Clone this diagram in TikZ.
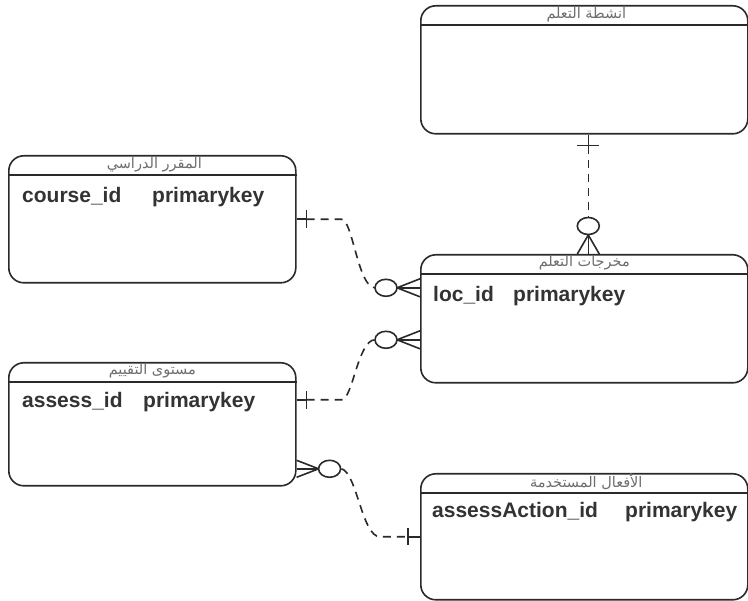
\documentclass[tikz,border=0pt]{standalone}
\usepackage{fontspec}
\setmainfont{Liberation Sans}
\newfontfamily\arabicfont[Script=Arabic]{DejaVu Sans}
\TeXXeTstate=1
\usetikzlibrary{shapes.geometric,calc}
\definecolor{edgec}{HTML}{2A2A2A}
\definecolor{titlec}{HTML}{6E6E6E}
\definecolor{fieldc}{HTML}{333333}
\tikzset{
 entity/.style={draw=edgec, line width=1.6pt, rounded corners=15pt, anchor=north west, inner sep=0pt},
 hdr/.style={draw=edgec, line width=1.6pt},
 ttl/.style={font=\arabicfont\fontsize{14.5}{16}\selectfont, text=titlec, inner sep=0pt},
 fld/.style={font=\bfseries\fontsize{21}{24}\selectfont, text=fieldc, anchor=base west, inner sep=0pt},
 rel/.style={draw=edgec, line width=1.6pt, dash pattern=on 8pt off 6pt},
 tip/.style={draw=edgec, line width=1.6pt},
 opt/.style={draw=edgec, line width=1.6pt, ellipse, minimum width=22pt, minimum height=17pt, inner sep=0pt, fill=white},
}
\begin{document}
\begin{tikzpicture}[x=1pt,y=-1pt]
\useasboundingbox[fill=white] (0,0) rectangle (748,601);

% entities
\node[entity, minimum width=327pt, minimum height=128pt] (act) at (420,5) {};
\node[entity, minimum width=287pt, minimum height=127pt] (crs) at (8,155) {};
\node[entity, minimum width=327pt, minimum height=128pt] (loc) at (420,254) {};
\node[entity, minimum width=287pt, minimum height=123pt] (ass) at (8,362) {};
\node[entity, minimum width=327pt, minimum height=126pt] (verb) at (420,473) {};

% header lines
\foreach \b in {act,crs,loc,ass,verb}{
  \draw[hdr] ($(\b.north west)+(0,20)$) -- ($(\b.north east)+(0,20)$);
}

% titles
\node[ttl] (actT) at ($(act.north)+(2,10)$) {\beginR انشطة التعلم\endR};
\node[ttl] (crsT) at ($(crs.north)+(2,10)$) {\beginR المقرر الدراسي\endR};
\node[ttl] (locT) at ($(loc.north)+(0,9)$) {\beginR مخرجات التعلم\endR};
\node[ttl] (assT) at ($(ass.north)+(0,9)$) {\beginR مستوى التقييم\endR};
\node[ttl] (verbT) at ($(verb.north)+(2,9)$) {\beginR الأفعال المستخدمة\endR};

% fields
\node[fld] (crsK) at (22,203) {course\_id};
\node[fld] (crsP) at (152,203) {primarykey};
\node[fld] (locK) at (433,302) {loc\_id};
\node[fld] (locP) at (513,302) {primarykey};
\node[fld] (assK) at (22,408) {assess\_id};
\node[fld] (assP) at (143,408) {primarykey};
\node[fld] (verbK) at (432,518) {assessAction\_id};
\node[fld] (verbP) at (625,518) {primarykey};

% connector 1: act (one) -- loc (zero or many)
\coordinate (c1a) at ($(act.south)+(4,0)$);
\coordinate (c1b) at ($(loc.north)+(4,0)$);
\draw[tip] (c1a) -- ($(c1a)+(0,11)$);
\draw[tip] ($(c1a)+(-11,11)$) -- ($(c1a)+(11,11)$);
\draw[rel] ($(c1a)+(0,11)$) -- ($(c1b)+(0,-36)$);
\draw[tip] ($(c1b)+(0,-19)$) -- ($(c1b)+(-11,0)$);
\draw[tip] ($(c1b)+(0,-19)$) -- ($(c1b)+(11,0)$);
\draw[tip] ($(c1b)+(0,-20)$) -- (c1b);
\node[opt] (o1) at ($(c1b)+(0,-28)$) {};

% connector 2: crs (one) -- loc (zero or many)
\coordinate (c2a) at (crs.east);
\coordinate (c2b) at ($(loc.west)+(0,-31)$);
\draw[tip] (c2a) -- ($(c2a)+(10,0)$);
\draw[tip] ($(c2a)+(10,-9)$) -- ($(c2a)+(10,9)$);
\draw[rel] ($(c2a)+(10,0)$) -- ($(c2a)+(45,0)$) .. controls ($(c2a)+(56,0)$) and ($(c2b)+(-62,0)$) .. ($(c2b)+(-45,0)$);
\draw[tip] ($(c2b)+(-23,0)$) -- ($(c2b)+(0,-9)$);
\draw[tip] ($(c2b)+(-23,0)$) -- ($(c2b)+(0,9)$);
\draw[tip] ($(c2b)+(-24,0)$) -- (c2b);
\node[opt] (o2) at ($(c2b)+(-34,0)$) {};

% connector 3: ass (one) -- loc (zero or many)
\coordinate (c3a) at ($(ass.east)+(0,-24.5)$);
\coordinate (c3b) at ($(loc.west)+(0,21)$);
\draw[tip] (c3a) -- ($(c3a)+(10,0)$);
\draw[tip] ($(c3a)+(10,-9)$) -- ($(c3a)+(10,9)$);
\draw[rel] ($(c3a)+(10,0)$) -- ($(c3a)+(45,0)$) .. controls ($(c3a)+(56,0)$) and ($(c3b)+(-62,0)$) .. ($(c3b)+(-45,0)$);
\draw[tip] ($(c3b)+(-23,0)$) -- ($(c3b)+(0,-9)$);
\draw[tip] ($(c3b)+(-23,0)$) -- ($(c3b)+(0,9)$);
\draw[tip] ($(c3b)+(-24,0)$) -- (c3b);
\node[opt] (o3) at ($(c3b)+(-34,0)$) {};

% connector 4: ass (zero or many) -- verb (one)
\coordinate (c4a) at ($(ass.east)+(0,44.5)$);
\coordinate (c4b) at (verb.west);
\draw[tip] ($(c4a)+(22,0)$) -- ($(c4a)+(0,-8.5)$);
\draw[tip] ($(c4a)+(22,0)$) -- ($(c4a)+(0,8.5)$);
\draw[tip] ($(c4a)+(23,0)$) -- (c4a);
\node[opt] (o4) at ($(c4a)+(33,0)$) {};
\draw[rel] (o4.east) .. controls ($(c4a)+(60,3)$) and ($(c4b)+(-58,0)$) .. ($(c4b)+(-40,0)$) -- ($(c4b)+(-12,0)$);
\draw[tip] ($(c4b)+(-12,-8.5)$) -- ($(c4b)+(-12,8.5)$);
\draw[tip] ($(c4b)+(-12,0)$) -- (c4b);
\end{tikzpicture}
\end{document}
